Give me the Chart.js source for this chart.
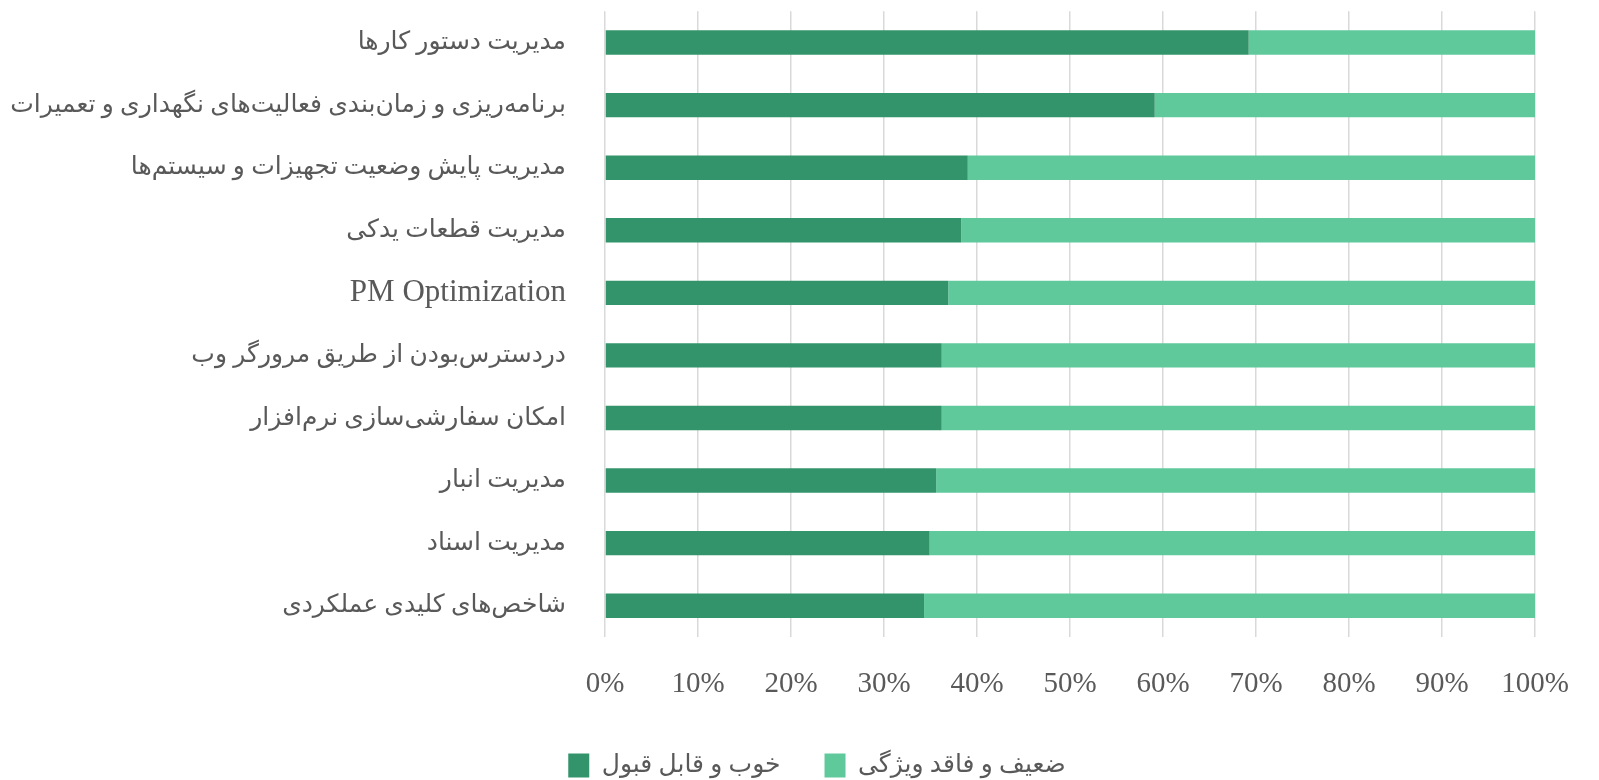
<!DOCTYPE html>
<html lang="fa">
<head>
<meta charset="utf-8">
<script src="https://cdn.jsdelivr.net/npm/chart.js@4/dist/chart.umd.min.js"></script>
<style>
  html, body { margin: 0; padding: 0; background: #ffffff; }
  #wrap { width: 1599px; height: 780px; }
</style>
</head>
<body>
<div id="wrap"><canvas id="chart" width="1599" height="780"></canvas></div>
<script>
const categories = [
  "مدیریت دستور کارها",
  "برنامه‌ریزی و زمان‌بندی فعالیت‌های نگهداری و تعمیرات",
  "مدیریت پایش وضعیت تجهیزات و سیستم‌ها",
  "مدیریت قطعات یدکی",
  "PM Optimization",
  "دردسترس‌بودن از طریق مرورگر وب",
  "امکان سفارشی‌سازی نرم‌افزار",
  "مدیریت انبار",
  "مدیریت اسناد",
  "شاخص‌های کلیدی عملکردی"
];

const goodValues = [69.2, 59.1, 39.0, 38.3, 36.9, 36.2, 36.2, 35.6, 34.9, 34.3];
const poorValues = [30.8, 40.9, 61.0, 61.7, 63.1, 63.8, 63.8, 64.4, 65.1, 65.7];

const seriesNames = ["خوب و قابل قبول", "ضعیف و فاقد ویژگی"];
const xTickValues = [0, 10, 20, 30, 40, 50, 60, 70, 80, 90, 100];

const textColor = "#595959";
const fontFamily = "'Liberation Serif', 'DejaVu Sans', serif";

// latin labels are set larger than the persian ones in the original
function yTickFont(c) {
  const label = categories[c.index] || "";
  const latin = /^[A-Za-z ]+$/.test(label);
  return { family: fontFamily, size: latin ? 31 : 25, lineHeight: 0.9 };
}

// the legend in the original sits a bit right of the canvas centre
const legendShift = {
  id: "legendShift",
  afterLayout(chart) {
    if (chart.legend) {
      chart.legend.left += 38;
      chart.legend.right += 38;
    }
  }
};

const ctx = document.getElementById("chart").getContext("2d");

new Chart(ctx, {
  type: "bar",
  data: {
    labels: categories,
    datasets: [
      {
        label: seriesNames[0],
        data: goodValues,
        backgroundColor: "#33946B",
        barPercentage: 0.39,
        categoryPercentage: 1
      },
      {
        label: seriesNames[1],
        data: poorValues,
        backgroundColor: "#5FC99C",
        barPercentage: 0.39,
        categoryPercentage: 1
      }
    ]
  },
  plugins: [legendShift],
  options: {
    indexAxis: "y",
    responsive: false,
    animation: false,
    layout: {
      padding: { left: 0, right: 41, top: 0, bottom: -8 }
    },
    plugins: {
      tooltip: { enabled: false },
      legend: {
        position: "bottom",
        labels: {
          boxWidth: 21,
          boxHeight: 24,
          padding: 44,
          color: textColor,
          font: { family: fontFamily, size: 25 }
        }
      }
    },
    scales: {
      x: {
        stacked: true,
        min: 0,
        max: 100,
        afterBuildTicks: scale => {
          scale.ticks = xTickValues.map(v => ({ value: v }));
        },
        afterFit: scale => {
          scale.height = 72;
        },
        grid: {
          color: "#d9d9d9",
          lineWidth: 1.5,
          drawTicks: false
        },
        border: { display: false },
        ticks: {
          padding: 30,
          color: textColor,
          font: { family: fontFamily, size: 29 },
          callback: v => v + "%"
        }
      },
      y: {
        stacked: true,
        afterFit: scale => {
          scale.width = 605;
        },
        grid: { display: false, drawTicks: true, tickLength: 39 },
        border: { display: false },
        ticks: {
          padding: 0,
          color: textColor,
          font: yTickFont
        }
      }
    }
  }
});
</script>
</body>
</html>
